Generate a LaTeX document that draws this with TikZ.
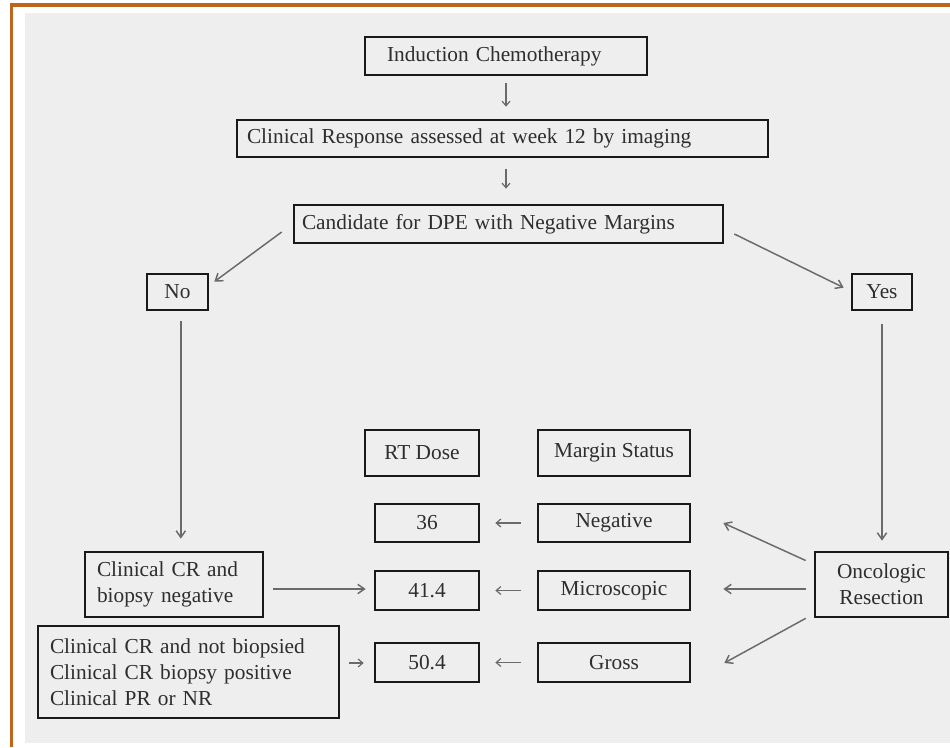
\documentclass[tikz,border=0pt]{standalone}
\usepackage{fontspec}
\setmainfont{Liberation Serif}
\usetikzlibrary{arrows.meta}
\definecolor{bordero}{HTML}{C0661C}
\definecolor{bg}{HTML}{EEEEEE}
\definecolor{txt}{HTML}{2E2E2E}
\definecolor{arr}{HTML}{6A6A6A}
\begin{document}
\begin{tikzpicture}[x=0.75pt,y=-0.75pt,
  box/.style={draw=black!90, line width=2pt, text=txt, font=\fontsize{16}{19.5}\selectfont,
    inner xsep=0pt, inner ysep=0pt, align=center},
  sz/.style 2 args={minimum width=0.75*#1pt, minimum height=0.75*#2pt},
  lpad/.style 2 args={inner xsep=0.75*#1pt, text width=0.75*#2pt, align=left},
  con/.style={draw=arr, line width=1.1pt, -{Straight Barb[length=5pt,width=7pt,line width=1.1pt]}},
  small/.style={draw=arr, line width=0.9pt, -{Straight Barb[length=3.5pt,width=6pt,line width=0.9pt]}},
]
\useasboundingbox (0,0) rectangle (950,747);
\fill[white] (0,0) rectangle (950,747);
\fill[bg] (25,13) rectangle (950,743);
\draw[bordero, line width=2.6pt] (11.5,747) -- (11.5,5) -- (950,5);

% boxes
\node[box, sz={282}{38}, lpad={22}{238}] (ind) at (506,56) {Induction Chemotherapy};
\node[box, sz={531}{37}, lpad={10}{511}] (resp) at (502.5,138.5) {Clinical Response assessed at week 12 by imaging};
\node[box, sz={429}{38}, lpad={8}{413}] (cand) at (508.5,224) {Candidate for DPE with Negative Margins};
\node[box, sz={61}{36}] (no) at (177.5,292) {No};
\node[box, sz={60}{36}] (yes) at (882,292) {Yes};
\node[box, sz={114}{46}] (rtdose) at (422,453) {RT Dose};
\node[box, sz={152}{46}] (margin) at (614,453) {Margin Status};
\node[box, sz={104}{38}] (d36) at (427,523) {36};
\node[box, sz={152}{38}] (neg) at (614,523) {Negative};
\node[box, sz={104}{39}] (d414) at (427,590.5) {41.4};
\node[box, sz={152}{39}] (micro) at (614,590.5) {Microscopic};
\node[box, sz={104}{39}] (d504) at (427,662.5) {50.4};
\node[box, sz={152}{39}] (gross) at (614,662.5) {Gross};
\node[box, sz={178}{65}, lpad={12}{154}] (ccrneg) at (174,584.5) {Clinical CR and\\biopsy negative};
\node[box, sz={133}{65}] (onc) at (881.5,584.5) {Oncologic\\Resection};
\node[box, sz={301}{92}, lpad={12}{277}] (ccrnot) at (188.5,672) {Clinical CR and not biopsied\\Clinical CR biopsy positive\\Clinical PR or NR};

% connectors
\draw[small, shorten <=5.25pt, shorten >=9pt] (ind.south) -- (ind.south |- resp.north);
\draw[small, shorten <=8.25pt, shorten >=11.25pt] (ind.south |- resp.south) -- (ind.south |- cand.north);
\draw[con] ([shift={(-11,8)}]cand.west) -- ([shift={(5,9)}]no.north east);
\draw[con] ([shift={(10,10)}]cand.east) -- ([shift={(-7,15)}]yes.north west);
\draw[con, shorten <=7.5pt, shorten >=9pt] ([xshift=2.5]no.south) -- ([xshift=2.5]no.south |- ccrneg.north);
\draw[con, shorten <=9.75pt, shorten >=7.5pt] (yes.south) -- (yes.south |- onc.north);
\draw[con] ([shift={(-8,-24)}]onc.west) -- ([shift={(32,0)}]neg.east);
\draw[con] ([shift={(-8,4.5)}]onc.west) -- ([shift={(32,-1.5)}]micro.east);
\draw[con] ([shift={(-8,0)}]onc.south west) -- ([shift={(33,0.5)}]gross.east);
\draw[con] ([shift={(9,4.5)}]ccrneg.east) -- ([shift={(-8,-1.5)}]d414.west);
\draw[small] ([shift={(9,-9)}]ccrnot.east) -- ([shift={(-10,0.5)}]d504.west);
\draw[small, shorten <=12pt, shorten >=11.25pt] (neg.west) -- (d36.east);
\draw[small, shorten <=12pt, shorten >=11.25pt] (micro.west) -- (d414.east);
\draw[small, shorten <=12pt, shorten >=11.25pt] (gross.west) -- (d504.east);
\end{tikzpicture}
\end{document}
